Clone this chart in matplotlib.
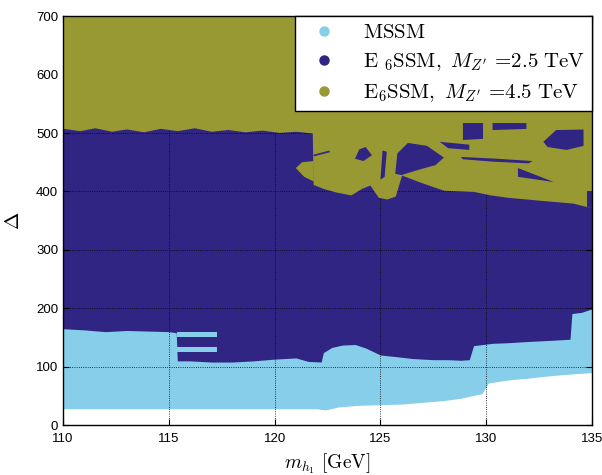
import matplotlib
matplotlib.use("Agg")
import matplotlib.pyplot as plt
from matplotlib.lines import Line2D

plt.rcParams['mathtext.fontset'] = 'cm'
plt.rcParams['font.family'] = ['Liberation Sans', 'DejaVu Sans']

# colours of the three scans
C_MSSM = '#87ceeb'
C_E25 = '#312584'
C_E45 = '#999933'

# MSSM: lower edge of the allowed band
mssm_x = [110, 112, 114, 116, 118, 120, 122.0, 122.4, 123.0, 124.0, 125.0, 126.0,
          127.0, 128.0, 128.8, 129.3, 129.8, 130.1, 130.6, 131.2, 131.9, 132.6,
          133.5, 134.2, 135]
mssm_lo = [28, 28, 28, 28, 28, 28, 28, 26, 31, 34, 35, 36,
           39, 42, 46, 50, 54, 72, 75, 78, 80, 83,
           86, 88, 90]

# E6SSM (M_Z' = 2.5 TeV): lower edge of the band
e25_x = [110, 111, 112, 113, 114, 115, 115.35, 115.4, 116, 117, 118, 119, 120,
         121, 121.6, 122.2, 122.3, 122.7, 123.2, 123.8, 124.3, 125.0, 125.8,
         126.5, 127.5, 128.2, 128.8, 129.2, 129.4, 130.3, 131.0, 131.9, 133.0,
         133.96, 134.05, 134.5, 135]
e25_lo = [165, 163, 160, 162, 161, 160, 158, 110, 110, 108, 108, 110, 113,
          115, 109, 108, 124, 133, 137, 138, 132, 120, 117,
          114, 112, 112, 111, 112, 136, 140, 141, 143, 145,
          147, 191, 193, 199]

# light blue gaps inside the dark band near 116 GeV
gap_x = [115.4, 117.3]
gap1_lo, gap1_hi = [150, 150], [160, 160]
gap2_lo, gap2_hi = [125, 125], [134, 134]

# E6SSM (M_Z' = 4.5 TeV): lower edge of the band
e45_x = [110, 110.8, 111.5, 112.3, 113.0, 113.8, 114.6, 115.4, 116.2, 117.0,
         117.8, 118.6, 119.4, 120.2, 121.0, 121.78, 121.82, 122.3, 122.9, 123.6,
         124.1, 124.5, 124.9, 125.3, 125.7, 126.0, 126.8, 127.5, 128.0, 129.4,
         130.2, 131.0, 132.5, 134.1, 134.75, 135]
e45_lo = [508, 504, 509, 503, 507, 502, 508, 504, 509, 503,
          506, 502, 505, 501, 503, 500, 412, 405, 399, 394,
          405, 411, 390, 387, 392, 428, 417, 408, 402, 400,
          394, 390, 385, 380, 374, 374]

# small olive lobe left of the main olive band
lobe_x = [121.0, 121.3, 121.85, 121.85, 121.4]
lobe_y = [440, 450, 452, 417, 425]

# dark blue holes inside the olive band
holes = [
    ([125.7, 125.8, 126.3, 127.2, 128.0, 127.6, 126.8, 126.0],
     [430, 465, 483, 478, 458, 445, 437, 428]),
    ([123.8, 124.0, 124.3, 124.6, 124.2],
     [456, 472, 476, 462, 452]),
    ([125.0, 125.1, 125.3, 125.2],
     [420, 470, 468, 425]),
    ([121.85, 122.6, 122.6, 121.85],
     [463, 470, 467, 460]),
    ([127.8, 129.2, 129.2, 128.2],
     [485, 480, 471, 474]),
    ([128.8, 130.5, 132.2, 132.0, 130.3, 128.9],
     [459, 456, 452, 448, 451, 455]),
    ([131.5, 131.5, 133.2],
     [440, 425, 416]),
    ([132.7, 133.3, 134.6, 134.6, 133.8, 132.9],
     [485, 505, 506, 478, 471, 476]),
    ([128.9, 129.85, 129.85, 128.9],
     [517, 517, 490, 488]),
    ([130.3, 131.9, 131.9, 130.3],
     [517, 517, 507, 505]),
    ([134.75, 135, 135, 134.75],
     [400, 400, 374, 374]),
]

xticks = [110, 115, 120, 125, 130, 135]
yticks = [0, 100, 200, 300, 400, 500, 600, 700]

fig = plt.figure(figsize=(6.02, 4.75), dpi=100)
ax = fig.add_axes([0.1047, 0.105, 0.8787, 0.861])

ax.fill_between(mssm_x, mssm_lo, 300, color=C_MSSM, lw=0, zorder=1)
ax.fill_between(e25_x, e25_lo, 700, color=C_E25, lw=0, zorder=2)
ax.fill_between(gap_x, gap1_lo, gap1_hi, color=C_MSSM, lw=0, zorder=2.5)
ax.fill_between(gap_x, gap2_lo, gap2_hi, color=C_MSSM, lw=0, zorder=2.5)
ax.fill_between(e45_x, e45_lo, 700, color=C_E45, lw=0, zorder=3)
ax.fill(lobe_x, lobe_y, color=C_E45, lw=0, zorder=3)
for hx, hy in holes:
    ax.fill(hx, hy, color=C_E25, lw=0, zorder=3.5)

ax.set_xlim(110, 135)
ax.set_ylim(0, 700)
ax.set_xticks(xticks)
ax.set_yticks(yticks)
ax.tick_params(direction='in', top=True, right=True, labelsize=9.5, length=4)
ax.tick_params(axis='x', pad=6)
ax.grid(True, color='black', linestyle=':', linewidth=0.6, zorder=4)
ax.set_axisbelow(False)
for s in ax.spines.values():
    s.set_linewidth(1.0)
    s.set_zorder(5)

ax.set_xlabel(r'$m_{h_1}\ [\mathrm{GeV}]$', fontsize=14, labelpad=4)
ax.set_ylabel(r'$\Delta$', fontsize=15, labelpad=9)

handles = [
    Line2D([], [], ls='none', marker='o', ms=6.5, color=C_MSSM),
    Line2D([], [], ls='none', marker='o', ms=6.5, color=C_E25),
    Line2D([], [], ls='none', marker='o', ms=6.5, color=C_E45),
]
labels = [
    r'$\mathrm{MSSM}$',
    r'$\mathrm{E}\ _6\mathrm{SSM},\ M_{Z^{\prime}}\ \!=\!2.5\ \mathrm{TeV}$',
    r'$\mathrm{E}_6\mathrm{SSM},\ M_{Z^{\prime}}\ \!=\!4.5\ \mathrm{TeV}$',
]
leg = ax.legend(handles, labels, loc='upper right', borderaxespad=0,
                fontsize=15, fancybox=False, framealpha=1, edgecolor='black',
                handlelength=2.2, handletextpad=0.76, labelspacing=0.45,
                borderpad=0.32)
leg.get_frame().set_linewidth(1.0)
leg.set_zorder(10)

fig.savefig('out.png', dpi=100)
